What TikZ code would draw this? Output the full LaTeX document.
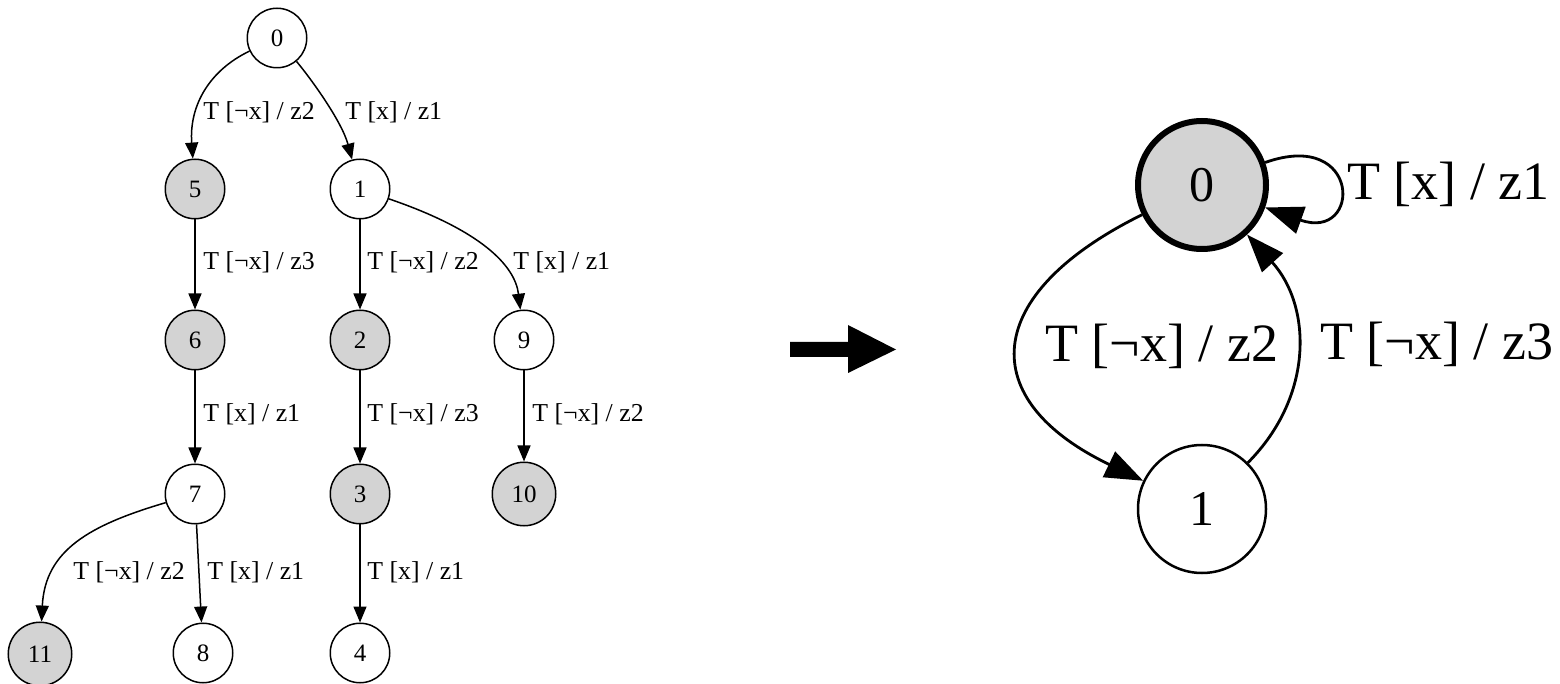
\documentclass[tikz,border=0pt]{standalone}
\usepackage{fontspec}
\setmainfont{Liberation Serif}
\usetikzlibrary{arrows.meta}
\definecolor{nodegray}{HTML}{D3D3D3}
\tikzset{
  tnode/.style={circle, draw, line width=0.75pt, minimum size=29.75pt, inner sep=0pt, font=\fontsize{12.5}{14}\selectfont},
  tbig/.style={minimum size=31.75pt},
  gfill/.style={fill=nodegray},
  tedge/.style={line width=0.75pt, -{Triangle[length=8pt,width=6.5pt]}},
  tlab/.style={anchor=base west, inner sep=0pt, font=\fontsize{12.9}{14}\selectfont},
  rnode/.style={circle, draw, line width=1.25pt, minimum size=64pt, inner sep=0pt, font=\fontsize{25}{28}\selectfont},
  redge/.style={line width=1.4pt, -{Triangle[length=19pt,width=14pt]}},
  rlab/.style={anchor=base west, inner sep=0pt, font=\fontsize{27}{30}\selectfont},
}
\begin{document}
\begin{tikzpicture}[x=0.5pt, y=-0.5pt]
\path[use as bounding box] (0,0) rectangle (1560,684);
% ---------- tree ----------
\node[tnode] (t0) at (277,38) {0};
\node[tnode, gfill] (t5) at (195,189) {5};
\node[tnode] (t1) at (360,189) {1};
\node[tnode, gfill] (t6) at (195,340) {6};
\node[tnode, gfill] (t2) at (360,340) {2};
\node[tnode] (t9) at (524,340) {9};
\node[tnode] (t7) at (195,494) {7};
\node[tnode, gfill] (t3) at (360,494) {3};
\node[tnode, tbig, gfill] (t10) at (524,494) {10};
\node[tnode, tbig, gfill] (t11) at (40,654) {11};
\node[tnode] (t8) at (203,653) {8};
\node[tnode] (t4) at (360,653) {4};

\draw[tedge] (t0) .. controls (210,70) and (189,105) .. (t5);
\draw[tedge] (t0) .. controls (312,80) and (342,122) .. (t1);
\draw[tedge] (t5) -- (t6);
\draw[tedge] (t1) -- (t2);
\draw[tedge] (t1) .. controls (480,230) and (515,265) .. (t9);
\draw[tedge] (t6) -- (t7);
\draw[tedge] (t2) -- (t3);
\draw[tedge] (t9) -- (t10);
\draw[tedge] (t7) .. controls (90,525) and (45,550) .. (t11);
\draw[tedge] (t7) -- (t8);
\draw[tedge] (t3) -- (t4);

\node[tlab] (l05) at (203,120) {T [¬x] / z2};
\node[tlab] (l01) at (345,120) {T [x] / z1};
\node[tlab] (l56) at (203,270) {T [¬x] / z3};
\node[tlab] (l12) at (367,270) {T [¬x] / z2};
\node[tlab] (l19) at (513,270) {T [x] / z1};
\node[tlab] (l67) at (203,422) {T [x] / z1};
\node[tlab] (l23) at (367,422) {T [¬x] / z3};
\node[tlab] (l910) at (532,422) {T [¬x] / z2};
\node[tlab] (l711) at (73,579) {T [¬x] / z2};
\node[tlab] (l78) at (207,579) {T [x] / z1};
\node[tlab] (l34) at (367,579) {T [x] / z1};

% ---------- big arrow ----------
\fill (790,342) -- (848,342) -- (848,325) -- (896,349.5) -- (848,373) -- (848,357) -- (790,357) -- cycle;

% ---------- minimized machine ----------
\node[rnode, gfill, line width=3pt] (r0) at (1202,185) {0};
\node[rnode] (r1) at (1202,509) {1};

\draw[redge] (r0) .. controls (1362,128) and (1362,242) .. (r0);
\draw[redge] (r0) .. controls (980,295) and (975,400) .. (r1);
\draw[redge] (r1) .. controls (1315,395) and (1311,305) .. (r0);

\node[rlab] (rl00) at (1347,200) {T [x] / z1};
\node[rlab] (rl01) at (1045,362) {T [¬x] / z2};
\node[rlab] (rl10) at (1320,360) {T [¬x] / z3};
\end{tikzpicture}
\end{document}
